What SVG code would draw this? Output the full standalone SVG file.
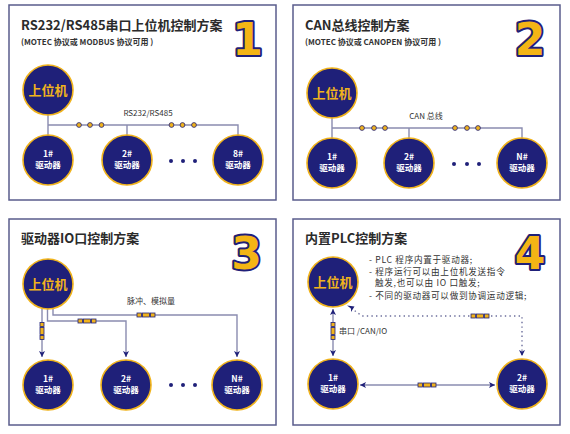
<svg xmlns="http://www.w3.org/2000/svg" xmlns:xlink="http://www.w3.org/1999/xlink" width="570" height="434" viewBox="0 0 570 434">
<style>
.panel{fill:#fff;stroke:#5a5c8c;stroke-width:1.5}
.title{font-family:"Noto Sans CJK SC","Noto Sans",sans-serif;font-size:13px;font-weight:bold;fill:#2b2b2b}
.sub{font-family:"Noto Sans CJK SC","Noto Sans",sans-serif;font-size:8px;font-weight:bold;fill:#333}
.num{font-family:"DejaVu Sans",sans-serif;font-size:44px;font-weight:bold;fill:#f4b515;stroke:#1f2079;stroke-width:4;paint-order:stroke;stroke-linejoin:round;text-anchor:middle}
.node{fill:#1f2079;stroke:#f0b31c;stroke-width:1.6}
.host{font-family:"Noto Sans CJK SC",sans-serif;font-size:13px;font-weight:bold;fill:#f0b31c;text-anchor:middle}
.drv{font-family:"Noto Sans CJK SC","Noto Sans",sans-serif;font-size:8.5px;font-weight:bold;fill:#fff;text-anchor:middle}
.ln{fill:none;stroke:#8a8cb0;stroke-width:1.4}
.dot{fill:none;stroke:#6c6e9c;stroke-width:1.4;stroke-dasharray:1.4 3.2}
.bd{fill:#f0b31c;stroke:#1f2079;stroke-width:0.8}
.el{fill:#1f2079}
.lbl{font-family:"Noto Sans CJK SC","Noto Sans",sans-serif;font-size:8px;fill:#333}
.lbl2{font-family:"Noto Sans CJK SC","Noto Sans",sans-serif;font-size:8.6px;fill:#333;letter-spacing:0.7px}
.res{fill:#f0b31c;stroke:#1f2079;stroke-width:0.8}
</style>
<defs>
<marker id="ah" markerUnits="userSpaceOnUse" markerWidth="8" markerHeight="8" refX="6" refY="3" orient="auto-start-reverse" viewBox="0 0 8 8">
<path d="M0,0 L6,3 L0,6 L1.5,3 Z" fill="#1f2079"/>
</marker>
<g id="resH"><rect class="res" x="-9" y="-2" width="4.5" height="4"/><rect class="res" x="-3.5" y="-2" width="7" height="4"/><rect class="res" x="4.5" y="-2" width="4.5" height="4"/></g>
<g id="resV"><rect class="res" x="-2" y="-8.5" width="4" height="4"/><rect class="res" x="-2" y="-3.5" width="4" height="7"/><rect class="res" x="-2" y="4.5" width="4" height="4"/></g>
</defs>

<g id="panels">
<rect class="panel" x="9" y="5" width="267" height="195"/>
<rect class="panel" x="293" y="5" width="267" height="195"/>
<rect class="panel" x="9" y="219" width="267" height="206"/>
<rect class="panel" x="293" y="219" width="267" height="206"/>
</g>

<g id="titles">
<text class="title" x="21" y="30">RS232/RS485串口上位机控制方案</text>
<text class="sub" x="21" y="45">(MOTEC 协议或 MODBUS 协议可用 )</text>
<text class="num" x="247.5" y="55">1</text>
<text class="title" x="305" y="30">CAN总线控制方案</text>
<text class="sub" x="305" y="45">(MOTEC 协议或 CANOPEN 协议可用 )</text>
<text class="num" x="530" y="55">2</text>
<text class="title" x="21" y="243">驱动器IO口控制方案</text>
<text class="num" x="246.5" y="269">3</text>
<text class="title" x="305" y="243">内置PLC控制方案</text>
<text class="num" x="530" y="269">4</text>
</g>

<g id="connectors">
<!-- panel 1 -->
<path class="ln" d="M48,115 V135 M48,125 H238 V135 M127,125 V135"/>
<circle class="bd" cx="79" cy="125" r="2.4"/><circle class="bd" cx="90" cy="125" r="2.4"/><circle class="bd" cx="101.5" cy="125" r="2.4"/>
<circle class="bd" cx="171.5" cy="125" r="2.4"/><circle class="bd" cx="182.5" cy="125" r="2.4"/><circle class="bd" cx="194" cy="125" r="2.4"/>
<text class="lbl" x="148" y="115.5" text-anchor="middle">RS232/RS485</text>
<!-- panel 2 -->
<path class="ln" d="M332,118 V138 M332,128 H522 V138 M409,128 V138"/>
<circle class="bd" cx="362" cy="128" r="2.4"/><circle class="bd" cx="374" cy="128" r="2.4"/><circle class="bd" cx="385" cy="128" r="2.4"/>
<circle class="bd" cx="455" cy="128" r="2.4"/><circle class="bd" cx="467" cy="128" r="2.4"/><circle class="bd" cx="478" cy="128" r="2.4"/>
<text class="lbl" x="426" y="119" text-anchor="middle">CAN 总线</text>
<!-- panel 3 -->
<path class="ln" d="M42,308 V357" marker-end="url(#ah)"/>
<path class="ln" d="M47.5,309 V321 H126 V357" marker-end="url(#ah)"/>
<path class="ln" d="M53,308 V315 H237 V357" marker-end="url(#ah)"/>
<use href="#resV" x="42" y="331"/>
<use href="#resH" x="87" y="321"/>
<use href="#resH" x="146" y="315"/>
<text class="lbl" x="127" y="304">脉冲、模拟量</text>
<!-- panel 4 -->
<path class="ln" d="M333,309 V356" marker-start="url(#ah)" marker-end="url(#ah)"/>
<path class="ln" d="M360,385 H495" marker-start="url(#ah)" marker-end="url(#ah)"/>
<path class="dot" d="M351,308 L362,316 H522 V355"/>
<path d="M347,305.5 L354.5,306.5 L351,312 L351,308.5 Z" fill="#1f2079"/>
<path d="M519,350 L522,356 L525,350 L522,351.5 Z" fill="#1f2079"/>
<use href="#resV" x="333" y="331"/>
<use href="#resH" x="427" y="385"/>
<use href="#resH" x="480" y="316"/>
<text class="lbl" x="339" y="334">串口 /CAN/IO</text>
<text class="lbl2" x="369" y="263">- PLC 程序内置于驱动器;</text>
<text class="lbl2" x="369" y="274.5">- 程序运行可以由上位机发送指令</text>
<text class="lbl2" x="375" y="286">触发,也可以由 IO 口触发;</text>
<text class="lbl2" x="369" y="299">- 不同的驱动器可以做到协调运动逻辑;</text>
</g>

<g id="p1-host"><circle class="node" cx="48" cy="90" r="25"/><text class="host" x="48" y="94.5">上位机</text></g>
<g id="p1-d1"><circle class="node" cx="48" cy="160" r="25"/><text class="drv" x="48" y="157">1#</text><text class="drv" x="48" y="168">驱动器</text></g>
<g id="p1-d2"><circle class="node" cx="127" cy="160" r="25"/><text class="drv" x="127" y="157">2#</text><text class="drv" x="127" y="168">驱动器</text></g>
<g id="p1-d8"><circle class="node" cx="238" cy="160" r="25"/><text class="drv" x="238" y="157">8#</text><text class="drv" x="238" y="168">驱动器</text></g>
<g id="p1-ell"><circle class="el" cx="171" cy="161" r="2"/><circle class="el" cx="183" cy="161" r="2"/><circle class="el" cx="195" cy="161" r="2"/></g>

<g id="p2-host"><circle class="node" cx="332" cy="93" r="25"/><text class="host" x="332" y="97.5">上位机</text></g>
<g id="p2-d1"><circle class="node" cx="332" cy="163" r="25"/><text class="drv" x="332" y="160">1#</text><text class="drv" x="332" y="171">驱动器</text></g>
<g id="p2-d2"><circle class="node" cx="409" cy="163" r="25"/><text class="drv" x="409" y="160">2#</text><text class="drv" x="409" y="171">驱动器</text></g>
<g id="p2-dn"><circle class="node" cx="522" cy="163" r="25"/><text class="drv" x="522" y="160">N#</text><text class="drv" x="522" y="171">驱动器</text></g>
<g id="p2-ell"><circle class="el" cx="454" cy="164" r="2"/><circle class="el" cx="467" cy="164" r="2"/><circle class="el" cx="479" cy="164" r="2"/></g>

<g id="p3-host"><circle class="node" cx="48" cy="284" r="25"/><text class="host" x="48" y="288.5">上位机</text></g>
<g id="p3-d1"><circle class="node" cx="48" cy="385" r="25"/><text class="drv" x="48" y="382">1#</text><text class="drv" x="48" y="393">驱动器</text></g>
<g id="p3-d2"><circle class="node" cx="126" cy="385" r="25"/><text class="drv" x="126" y="382">2#</text><text class="drv" x="126" y="393">驱动器</text></g>
<g id="p3-dn"><circle class="node" cx="237" cy="385" r="25"/><text class="drv" x="237" y="382">N#</text><text class="drv" x="237" y="393">驱动器</text></g>
<g id="p3-ell"><circle class="el" cx="171" cy="385" r="2"/><circle class="el" cx="183" cy="385" r="2"/><circle class="el" cx="195" cy="385" r="2"/></g>

<g id="p4-host"><circle class="node" cx="333" cy="282" r="25"/><text class="host" x="333" y="286.5">上位机</text></g>
<g id="p4-d1"><circle class="node" cx="333" cy="384" r="25"/><text class="drv" x="333" y="381">1#</text><text class="drv" x="333" y="392">驱动器</text></g>
<g id="p4-d2"><circle class="node" cx="522" cy="384" r="25"/><text class="drv" x="522" y="381">2#</text><text class="drv" x="522" y="392">驱动器</text></g>
</svg>
